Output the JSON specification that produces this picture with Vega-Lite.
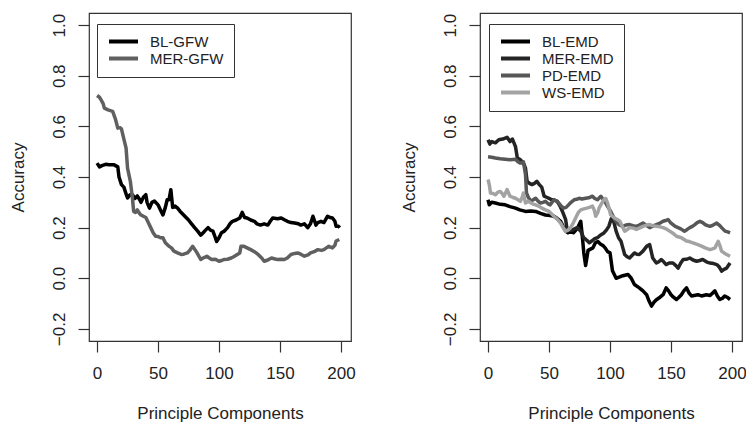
{
  "$schema": "https://vega.github.io/schema/vega-lite/v6.json",
  "autosize": {"type": "pad"},
  "padding": {"left": 8, "top": 12, "right": 0, "bottom": 0},
  "background": "white",
  "bounds": "flush",
  "spacing": 129,
  "config": {
    "view": {"stroke": "#333333", "strokeWidth": 1.2},
    "font": "Liberation Sans",
    "axis": {"domain": false, "grid": false, "ticks": true, "tickSize": 11, "tickColor": "#333333", "tickWidth": 1.2, "labelFont": "Liberation Sans", "labelFontSize": 17, "labelColor": "#222222", "labelFlush": false, "labelOverlap": false, "titleFont": "Liberation Sans", "titleFontSize": 17, "titleFontWeight": "normal", "titleColor": "#222222"},
    "axisX": {"labelPadding": 13, "titleY": 77, "titleBaseline": "alphabetic"},
    "axisY": {"labelAngle": 270, "labelAlign": "center", "labelBaseline": "bottom", "labelPadding": 10, "titleX": -66, "titleBaseline": "alphabetic", "titleAngle": 270},
    "legend": {"orient": "none", "legendX": 8, "legendY": 11, "symbolType": "stroke", "symbolSize": 841, "symbolStrokeWidth": 4, "labelFont": "Liberation Sans", "labelFontSize": 15, "labelColor": "#222222", "labelOffset": 10, "padding": 10, "clipHeight": 15, "strokeColor": "#333333", "fillColor": "white", "rowPadding": 1}
  },
  "datasets": {
    "gfw": [
      {"s":"BL-GFW","pc":0,"acc":0.455},{"s":"BL-GFW","pc":2,"acc":0.44},{"s":"BL-GFW","pc":4,"acc":0.445},{"s":"BL-GFW","pc":7,"acc":0.45},{"s":"BL-GFW","pc":10,"acc":0.448},{"s":"BL-GFW","pc":14,"acc":0.448},{"s":"BL-GFW","pc":17,"acc":0.44},{"s":"BL-GFW","pc":18,"acc":0.40},{"s":"BL-GFW","pc":20,"acc":0.37},{"s":"BL-GFW","pc":22,"acc":0.36},{"s":"BL-GFW","pc":24,"acc":0.33},{"s":"BL-GFW","pc":25,"acc":0.317},{"s":"BL-GFW","pc":27,"acc":0.33},{"s":"BL-GFW","pc":29,"acc":0.33},{"s":"BL-GFW","pc":31,"acc":0.315},{"s":"BL-GFW","pc":33,"acc":0.325},{"s":"BL-GFW","pc":35,"acc":0.31},{"s":"BL-GFW","pc":36,"acc":0.30},{"s":"BL-GFW","pc":38,"acc":0.32},{"s":"BL-GFW","pc":40,"acc":0.33},{"s":"BL-GFW","pc":41,"acc":0.30},{"s":"BL-GFW","pc":43,"acc":0.277},{"s":"BL-GFW","pc":45,"acc":0.30},{"s":"BL-GFW","pc":47,"acc":0.305},{"s":"BL-GFW","pc":50,"acc":0.29},{"s":"BL-GFW","pc":52,"acc":0.27},{"s":"BL-GFW","pc":54,"acc":0.25},{"s":"BL-GFW","pc":56,"acc":0.28},{"s":"BL-GFW","pc":57.5,"acc":0.31},{"s":"BL-GFW","pc":59,"acc":0.31},{"s":"BL-GFW","pc":60.5,"acc":0.35},{"s":"BL-GFW","pc":62,"acc":0.28},{"s":"BL-GFW","pc":64,"acc":0.285},{"s":"BL-GFW","pc":66,"acc":0.277},{"s":"BL-GFW","pc":68,"acc":0.265},{"s":"BL-GFW","pc":70,"acc":0.255},{"s":"BL-GFW","pc":72,"acc":0.245},{"s":"BL-GFW","pc":75,"acc":0.23},{"s":"BL-GFW","pc":77,"acc":0.218},{"s":"BL-GFW","pc":80,"acc":0.20},{"s":"BL-GFW","pc":82.5,"acc":0.186},{"s":"BL-GFW","pc":85,"acc":0.17},{"s":"BL-GFW","pc":87,"acc":0.18},{"s":"BL-GFW","pc":89,"acc":0.19},{"s":"BL-GFW","pc":91,"acc":0.20},{"s":"BL-GFW","pc":93,"acc":0.19},{"s":"BL-GFW","pc":95,"acc":0.186},{"s":"BL-GFW","pc":97,"acc":0.16},{"s":"BL-GFW","pc":98,"acc":0.145},{"s":"BL-GFW","pc":100,"acc":0.16},{"s":"BL-GFW","pc":102,"acc":0.18},{"s":"BL-GFW","pc":104,"acc":0.185},{"s":"BL-GFW","pc":107,"acc":0.20},{"s":"BL-GFW","pc":109,"acc":0.215},{"s":"BL-GFW","pc":111,"acc":0.225},{"s":"BL-GFW","pc":114,"acc":0.23},{"s":"BL-GFW","pc":117,"acc":0.238},{"s":"BL-GFW","pc":119,"acc":0.26},{"s":"BL-GFW","pc":121,"acc":0.24},{"s":"BL-GFW","pc":123,"acc":0.238},{"s":"BL-GFW","pc":126,"acc":0.23},{"s":"BL-GFW","pc":129,"acc":0.225},{"s":"BL-GFW","pc":131,"acc":0.215},{"s":"BL-GFW","pc":134,"acc":0.21},{"s":"BL-GFW","pc":137,"acc":0.215},{"s":"BL-GFW","pc":140,"acc":0.21},{"s":"BL-GFW","pc":142,"acc":0.225},{"s":"BL-GFW","pc":144,"acc":0.238},{"s":"BL-GFW","pc":148,"acc":0.235},{"s":"BL-GFW","pc":151,"acc":0.238},{"s":"BL-GFW","pc":154,"acc":0.23},{"s":"BL-GFW","pc":156,"acc":0.225},{"s":"BL-GFW","pc":159,"acc":0.22},{"s":"BL-GFW","pc":162,"acc":0.218},{"s":"BL-GFW","pc":165,"acc":0.215},{"s":"BL-GFW","pc":167,"acc":0.21},{"s":"BL-GFW","pc":170,"acc":0.215},{"s":"BL-GFW","pc":172.7,"acc":0.2},{"s":"BL-GFW","pc":175,"acc":0.215},{"s":"BL-GFW","pc":177,"acc":0.245},{"s":"BL-GFW","pc":179.5,"acc":0.21},{"s":"BL-GFW","pc":181,"acc":0.22},{"s":"BL-GFW","pc":183.6,"acc":0.225},{"s":"BL-GFW","pc":186,"acc":0.22},{"s":"BL-GFW","pc":189,"acc":0.245},{"s":"BL-GFW","pc":191,"acc":0.24},{"s":"BL-GFW","pc":193,"acc":0.238},{"s":"BL-GFW","pc":195,"acc":0.225},{"s":"BL-GFW","pc":196,"acc":0.205},{"s":"BL-GFW","pc":198,"acc":0.205},{"s":"BL-GFW","pc":199,"acc":0.2},
      {"s":"MER-GFW","pc":0,"acc":0.722},{"s":"MER-GFW","pc":2,"acc":0.715},{"s":"MER-GFW","pc":3.3,"acc":0.705},{"s":"MER-GFW","pc":5,"acc":0.69},{"s":"MER-GFW","pc":6,"acc":0.672},{"s":"MER-GFW","pc":9,"acc":0.665},{"s":"MER-GFW","pc":12.8,"acc":0.659},{"s":"MER-GFW","pc":15,"acc":0.63},{"s":"MER-GFW","pc":17,"acc":0.593},{"s":"MER-GFW","pc":19,"acc":0.595},{"s":"MER-GFW","pc":20,"acc":0.59},{"s":"MER-GFW","pc":22,"acc":0.55},{"s":"MER-GFW","pc":23.8,"acc":0.514},{"s":"MER-GFW","pc":25,"acc":0.435},{"s":"MER-GFW","pc":27.3,"acc":0.383},{"s":"MER-GFW","pc":29,"acc":0.317},{"s":"MER-GFW","pc":30,"acc":0.264},{"s":"MER-GFW","pc":31.5,"acc":0.26},{"s":"MER-GFW","pc":33,"acc":0.27},{"s":"MER-GFW","pc":35,"acc":0.255},{"s":"MER-GFW","pc":36,"acc":0.25},{"s":"MER-GFW","pc":38,"acc":0.245},{"s":"MER-GFW","pc":40,"acc":0.24},{"s":"MER-GFW","pc":42,"acc":0.22},{"s":"MER-GFW","pc":44,"acc":0.2},{"s":"MER-GFW","pc":46,"acc":0.18},{"s":"MER-GFW","pc":48,"acc":0.166},{"s":"MER-GFW","pc":50,"acc":0.165},{"s":"MER-GFW","pc":52,"acc":0.16},{"s":"MER-GFW","pc":54,"acc":0.16},{"s":"MER-GFW","pc":56,"acc":0.14},{"s":"MER-GFW","pc":59,"acc":0.126},{"s":"MER-GFW","pc":61,"acc":0.12},{"s":"MER-GFW","pc":63,"acc":0.107},{"s":"MER-GFW","pc":66,"acc":0.10},{"s":"MER-GFW","pc":69,"acc":0.094},{"s":"MER-GFW","pc":71,"acc":0.095},{"s":"MER-GFW","pc":74,"acc":0.10},{"s":"MER-GFW","pc":76,"acc":0.11},{"s":"MER-GFW","pc":78.4,"acc":0.126},{"s":"MER-GFW","pc":80,"acc":0.115},{"s":"MER-GFW","pc":82,"acc":0.10},{"s":"MER-GFW","pc":85,"acc":0.074},{"s":"MER-GFW","pc":87,"acc":0.08},{"s":"MER-GFW","pc":90,"acc":0.087},{"s":"MER-GFW","pc":92,"acc":0.08},{"s":"MER-GFW","pc":94,"acc":0.074},{"s":"MER-GFW","pc":97,"acc":0.075},{"s":"MER-GFW","pc":100,"acc":0.067},{"s":"MER-GFW","pc":102,"acc":0.07},{"s":"MER-GFW","pc":104,"acc":0.074},{"s":"MER-GFW","pc":107,"acc":0.075},{"s":"MER-GFW","pc":110,"acc":0.08},{"s":"MER-GFW","pc":112,"acc":0.085},{"s":"MER-GFW","pc":115,"acc":0.094},{"s":"MER-GFW","pc":117,"acc":0.10},{"s":"MER-GFW","pc":118,"acc":0.126},{"s":"MER-GFW","pc":120.5,"acc":0.126},{"s":"MER-GFW","pc":123,"acc":0.12},{"s":"MER-GFW","pc":126,"acc":0.113},{"s":"MER-GFW","pc":129,"acc":0.105},{"s":"MER-GFW","pc":132,"acc":0.094},{"s":"MER-GFW","pc":135,"acc":0.08},{"s":"MER-GFW","pc":137,"acc":0.067},{"s":"MER-GFW","pc":140,"acc":0.072},{"s":"MER-GFW","pc":143,"acc":0.08},{"s":"MER-GFW","pc":146,"acc":0.076},{"s":"MER-GFW","pc":148,"acc":0.074},{"s":"MER-GFW","pc":151,"acc":0.075},{"s":"MER-GFW","pc":153.5,"acc":0.074},{"s":"MER-GFW","pc":156,"acc":0.08},{"s":"MER-GFW","pc":159,"acc":0.094},{"s":"MER-GFW","pc":162,"acc":0.098},{"s":"MER-GFW","pc":164.5,"acc":0.10},{"s":"MER-GFW","pc":167,"acc":0.095},{"s":"MER-GFW","pc":170,"acc":0.087},{"s":"MER-GFW","pc":173,"acc":0.092},{"s":"MER-GFW","pc":175,"acc":0.10},{"s":"MER-GFW","pc":178,"acc":0.105},{"s":"MER-GFW","pc":181,"acc":0.113},{"s":"MER-GFW","pc":184,"acc":0.11},{"s":"MER-GFW","pc":186,"acc":0.113},{"s":"MER-GFW","pc":188,"acc":0.12},{"s":"MER-GFW","pc":190,"acc":0.126},{"s":"MER-GFW","pc":193,"acc":0.12},{"s":"MER-GFW","pc":195,"acc":0.13},{"s":"MER-GFW","pc":196,"acc":0.147},{"s":"MER-GFW","pc":198.6,"acc":0.153}
    ],
    "emd": [
      {"s":"BL-EMD","pc":0,"acc":0.31},{"s":"BL-EMD","pc":1,"acc":0.29},{"s":"BL-EMD","pc":3,"acc":0.30},{"s":"BL-EMD","pc":6,"acc":0.297},{"s":"BL-EMD","pc":10,"acc":0.292},{"s":"BL-EMD","pc":14,"acc":0.29},{"s":"BL-EMD","pc":18,"acc":0.283},{"s":"BL-EMD","pc":22.5,"acc":0.277},{"s":"BL-EMD","pc":26,"acc":0.27},{"s":"BL-EMD","pc":30.7,"acc":0.264},{"s":"BL-EMD","pc":35,"acc":0.266},{"s":"BL-EMD","pc":39,"acc":0.264},{"s":"BL-EMD","pc":43,"acc":0.256},{"s":"BL-EMD","pc":47,"acc":0.25},{"s":"BL-EMD","pc":51,"acc":0.248},{"s":"BL-EMD","pc":54,"acc":0.245},{"s":"BL-EMD","pc":57,"acc":0.235},{"s":"BL-EMD","pc":59.5,"acc":0.225},{"s":"BL-EMD","pc":61.5,"acc":0.205},{"s":"BL-EMD","pc":63.6,"acc":0.186},{"s":"BL-EMD","pc":65.5,"acc":0.18},{"s":"BL-EMD","pc":67.7,"acc":0.186},{"s":"BL-EMD","pc":70,"acc":0.18},{"s":"BL-EMD","pc":72,"acc":0.19},{"s":"BL-EMD","pc":74,"acc":0.205},{"s":"BL-EMD","pc":76,"acc":0.225},{"s":"BL-EMD","pc":77.4,"acc":0.16},{"s":"BL-EMD","pc":78.5,"acc":0.10},{"s":"BL-EMD","pc":80,"acc":0.05},{"s":"BL-EMD","pc":81,"acc":0.08},{"s":"BL-EMD","pc":82,"acc":0.11},{"s":"BL-EMD","pc":84,"acc":0.115},{"s":"BL-EMD","pc":86,"acc":0.12},{"s":"BL-EMD","pc":88,"acc":0.14},{"s":"BL-EMD","pc":90,"acc":0.145},{"s":"BL-EMD","pc":92,"acc":0.135},{"s":"BL-EMD","pc":94,"acc":0.13},{"s":"BL-EMD","pc":96,"acc":0.12},{"s":"BL-EMD","pc":98,"acc":0.105},{"s":"BL-EMD","pc":100,"acc":0.10},{"s":"BL-EMD","pc":102,"acc":0.03},{"s":"BL-EMD","pc":105,"acc":0.0},{"s":"BL-EMD","pc":108,"acc":0.005},{"s":"BL-EMD","pc":110.5,"acc":0.01},{"s":"BL-EMD","pc":114.7,"acc":0.015},{"s":"BL-EMD","pc":117.4,"acc":0.0},{"s":"BL-EMD","pc":120,"acc":-0.025},{"s":"BL-EMD","pc":124,"acc":-0.038},{"s":"BL-EMD","pc":127,"acc":-0.05},{"s":"BL-EMD","pc":130,"acc":-0.065},{"s":"BL-EMD","pc":132,"acc":-0.09},{"s":"BL-EMD","pc":134,"acc":-0.11},{"s":"BL-EMD","pc":136,"acc":-0.095},{"s":"BL-EMD","pc":138,"acc":-0.085},{"s":"BL-EMD","pc":141,"acc":-0.075},{"s":"BL-EMD","pc":143.5,"acc":-0.065},{"s":"BL-EMD","pc":146,"acc":-0.038},{"s":"BL-EMD","pc":148,"acc":-0.05},{"s":"BL-EMD","pc":150,"acc":-0.065},{"s":"BL-EMD","pc":152,"acc":-0.075},{"s":"BL-EMD","pc":154.5,"acc":-0.084},{"s":"BL-EMD","pc":156.5,"acc":-0.075},{"s":"BL-EMD","pc":158.5,"acc":-0.065},{"s":"BL-EMD","pc":160.5,"acc":-0.05},{"s":"BL-EMD","pc":162.7,"acc":-0.038},{"s":"BL-EMD","pc":165,"acc":-0.06},{"s":"BL-EMD","pc":166.8,"acc":-0.07},{"s":"BL-EMD","pc":169,"acc":-0.068},{"s":"BL-EMD","pc":172,"acc":-0.065},{"s":"BL-EMD","pc":175,"acc":-0.07},{"s":"BL-EMD","pc":179,"acc":-0.065},{"s":"BL-EMD","pc":182,"acc":-0.068},{"s":"BL-EMD","pc":186,"acc":-0.05},{"s":"BL-EMD","pc":188,"acc":-0.07},{"s":"BL-EMD","pc":190,"acc":-0.084},{"s":"BL-EMD","pc":192,"acc":-0.08},{"s":"BL-EMD","pc":194,"acc":-0.07},{"s":"BL-EMD","pc":196,"acc":-0.075},{"s":"BL-EMD","pc":198.4,"acc":-0.084},
      {"s":"MER-EMD","pc":0,"acc":0.547},{"s":"MER-EMD","pc":1.5,"acc":0.53},{"s":"MER-EMD","pc":3,"acc":0.54},{"s":"MER-EMD","pc":6,"acc":0.535},{"s":"MER-EMD","pc":8.8,"acc":0.547},{"s":"MER-EMD","pc":12,"acc":0.55},{"s":"MER-EMD","pc":15.6,"acc":0.557},{"s":"MER-EMD","pc":18,"acc":0.54},{"s":"MER-EMD","pc":20,"acc":0.55},{"s":"MER-EMD","pc":22.5,"acc":0.52},{"s":"MER-EMD","pc":24,"acc":0.475},{"s":"MER-EMD","pc":26,"acc":0.47},{"s":"MER-EMD","pc":28,"acc":0.46},{"s":"MER-EMD","pc":29.5,"acc":0.45},{"s":"MER-EMD","pc":30.7,"acc":0.435},{"s":"MER-EMD","pc":32,"acc":0.383},{"s":"MER-EMD","pc":34,"acc":0.375},{"s":"MER-EMD","pc":36,"acc":0.37},{"s":"MER-EMD","pc":38,"acc":0.375},{"s":"MER-EMD","pc":40,"acc":0.383},{"s":"MER-EMD","pc":42,"acc":0.37},{"s":"MER-EMD","pc":44,"acc":0.36},{"s":"MER-EMD","pc":46,"acc":0.324},{"s":"MER-EMD","pc":48,"acc":0.32},{"s":"MER-EMD","pc":50,"acc":0.316},{"s":"MER-EMD","pc":52,"acc":0.31},{"s":"MER-EMD","pc":54,"acc":0.31},{"s":"MER-EMD","pc":56.8,"acc":0.304},{"s":"MER-EMD","pc":59,"acc":0.285},{"s":"MER-EMD","pc":61,"acc":0.264},{"s":"MER-EMD","pc":63.6,"acc":0.232},{"s":"MER-EMD","pc":65,"acc":0.186},{"s":"MER-EMD","pc":67,"acc":0.19},{"s":"MER-EMD","pc":69,"acc":0.19},{"s":"MER-EMD","pc":71,"acc":0.195},{"s":"MER-EMD","pc":73,"acc":0.2},{"s":"MER-EMD","pc":76,"acc":0.186},{"s":"MER-EMD","pc":78.4,"acc":0.16},{"s":"MER-EMD","pc":81,"acc":0.15},{"s":"MER-EMD","pc":83,"acc":0.14},{"s":"MER-EMD","pc":85,"acc":0.147},{"s":"MER-EMD","pc":87,"acc":0.155},{"s":"MER-EMD","pc":89.7,"acc":0.16},{"s":"MER-EMD","pc":92,"acc":0.17},{"s":"MER-EMD","pc":95,"acc":0.179},{"s":"MER-EMD","pc":97,"acc":0.19},{"s":"MER-EMD","pc":99,"acc":0.205},{"s":"MER-EMD","pc":101,"acc":0.235},{"s":"MER-EMD","pc":103,"acc":0.225},{"s":"MER-EMD","pc":105,"acc":0.186},{"s":"MER-EMD","pc":107,"acc":0.16},{"s":"MER-EMD","pc":109,"acc":0.146},{"s":"MER-EMD","pc":110.5,"acc":0.12},{"s":"MER-EMD","pc":112,"acc":0.094},{"s":"MER-EMD","pc":114,"acc":0.085},{"s":"MER-EMD","pc":116,"acc":0.08},{"s":"MER-EMD","pc":118,"acc":0.09},{"s":"MER-EMD","pc":120,"acc":0.10},{"s":"MER-EMD","pc":122,"acc":0.095},{"s":"MER-EMD","pc":124,"acc":0.094},{"s":"MER-EMD","pc":127,"acc":0.107},{"s":"MER-EMD","pc":130,"acc":0.126},{"s":"MER-EMD","pc":132.5,"acc":0.133},{"s":"MER-EMD","pc":135,"acc":0.08},{"s":"MER-EMD","pc":138,"acc":0.06},{"s":"MER-EMD","pc":140,"acc":0.065},{"s":"MER-EMD","pc":142,"acc":0.074},{"s":"MER-EMD","pc":144,"acc":0.065},{"s":"MER-EMD","pc":146,"acc":0.054},{"s":"MER-EMD","pc":148.5,"acc":0.06},{"s":"MER-EMD","pc":151.6,"acc":0.06},{"s":"MER-EMD","pc":154,"acc":0.05},{"s":"MER-EMD","pc":155.8,"acc":0.04},{"s":"MER-EMD","pc":158,"acc":0.06},{"s":"MER-EMD","pc":160,"acc":0.074},{"s":"MER-EMD","pc":163,"acc":0.075},{"s":"MER-EMD","pc":165.4,"acc":0.08},{"s":"MER-EMD","pc":168,"acc":0.072},{"s":"MER-EMD","pc":171,"acc":0.067},{"s":"MER-EMD","pc":173.5,"acc":0.07},{"s":"MER-EMD","pc":176,"acc":0.074},{"s":"MER-EMD","pc":179,"acc":0.065},{"s":"MER-EMD","pc":182,"acc":0.06},{"s":"MER-EMD","pc":185,"acc":0.058},{"s":"MER-EMD","pc":187.5,"acc":0.054},{"s":"MER-EMD","pc":189.5,"acc":0.045},{"s":"MER-EMD","pc":191.5,"acc":0.028},{"s":"MER-EMD","pc":193.5,"acc":0.035},{"s":"MER-EMD","pc":195.6,"acc":0.04},{"s":"MER-EMD","pc":197,"acc":0.05},{"s":"MER-EMD","pc":198.4,"acc":0.06},
      {"s":"PD-EMD","pc":0,"acc":0.48},{"s":"PD-EMD","pc":3,"acc":0.478},{"s":"PD-EMD","pc":6,"acc":0.475},{"s":"PD-EMD","pc":10,"acc":0.472},{"s":"PD-EMD","pc":14,"acc":0.47},{"s":"PD-EMD","pc":18,"acc":0.468},{"s":"PD-EMD","pc":22.5,"acc":0.47},{"s":"PD-EMD","pc":24.5,"acc":0.46},{"s":"PD-EMD","pc":26.5,"acc":0.455},{"s":"PD-EMD","pc":29,"acc":0.46},{"s":"PD-EMD","pc":30.7,"acc":0.41},{"s":"PD-EMD","pc":31.5,"acc":0.337},{"s":"PD-EMD","pc":33,"acc":0.32},{"s":"PD-EMD","pc":35,"acc":0.304},{"s":"PD-EMD","pc":37,"acc":0.31},{"s":"PD-EMD","pc":39,"acc":0.316},{"s":"PD-EMD","pc":41,"acc":0.305},{"s":"PD-EMD","pc":43,"acc":0.297},{"s":"PD-EMD","pc":45,"acc":0.30},{"s":"PD-EMD","pc":47,"acc":0.304},{"s":"PD-EMD","pc":49,"acc":0.295},{"s":"PD-EMD","pc":51,"acc":0.29},{"s":"PD-EMD","pc":54,"acc":0.31},{"s":"PD-EMD","pc":56,"acc":0.305},{"s":"PD-EMD","pc":58,"acc":0.297},{"s":"PD-EMD","pc":60,"acc":0.285},{"s":"PD-EMD","pc":62,"acc":0.277},{"s":"PD-EMD","pc":64,"acc":0.28},{"s":"PD-EMD","pc":66,"acc":0.29},{"s":"PD-EMD","pc":68,"acc":0.30},{"s":"PD-EMD","pc":70.6,"acc":0.31},{"s":"PD-EMD","pc":72.6,"acc":0.312},{"s":"PD-EMD","pc":74.6,"acc":0.316},{"s":"PD-EMD","pc":77,"acc":0.313},{"s":"PD-EMD","pc":80,"acc":0.316},{"s":"PD-EMD","pc":82.5,"acc":0.318},{"s":"PD-EMD","pc":85.6,"acc":0.324},{"s":"PD-EMD","pc":87.5,"acc":0.315},{"s":"PD-EMD","pc":89.7,"acc":0.31},{"s":"PD-EMD","pc":92.5,"acc":0.324},{"s":"PD-EMD","pc":94.5,"acc":0.31},{"s":"PD-EMD","pc":96.5,"acc":0.297},{"s":"PD-EMD","pc":98.5,"acc":0.28},{"s":"PD-EMD","pc":100.6,"acc":0.264},{"s":"PD-EMD","pc":102,"acc":0.25},{"s":"PD-EMD","pc":104,"acc":0.23},{"s":"PD-EMD","pc":106,"acc":0.218},{"s":"PD-EMD","pc":108,"acc":0.21},{"s":"PD-EMD","pc":110.5,"acc":0.205},{"s":"PD-EMD","pc":113,"acc":0.21},{"s":"PD-EMD","pc":116,"acc":0.212},{"s":"PD-EMD","pc":119,"acc":0.208},{"s":"PD-EMD","pc":121.6,"acc":0.205},{"s":"PD-EMD","pc":124,"acc":0.21},{"s":"PD-EMD","pc":127,"acc":0.218},{"s":"PD-EMD","pc":130,"acc":0.208},{"s":"PD-EMD","pc":132.5,"acc":0.2},{"s":"PD-EMD","pc":135,"acc":0.206},{"s":"PD-EMD","pc":138,"acc":0.212},{"s":"PD-EMD","pc":141,"acc":0.218},{"s":"PD-EMD","pc":143.5,"acc":0.225},{"s":"PD-EMD","pc":145.5,"acc":0.228},{"s":"PD-EMD","pc":147.6,"acc":0.232},{"s":"PD-EMD","pc":149.5,"acc":0.22},{"s":"PD-EMD","pc":151.6,"acc":0.212},{"s":"PD-EMD","pc":153.5,"acc":0.205},{"s":"PD-EMD","pc":155.8,"acc":0.2},{"s":"PD-EMD","pc":158,"acc":0.195},{"s":"PD-EMD","pc":161,"acc":0.186},{"s":"PD-EMD","pc":163,"acc":0.192},{"s":"PD-EMD","pc":165.4,"acc":0.2},{"s":"PD-EMD","pc":167.5,"acc":0.205},{"s":"PD-EMD","pc":169.5,"acc":0.212},{"s":"PD-EMD","pc":171.5,"acc":0.22},{"s":"PD-EMD","pc":173.7,"acc":0.225},{"s":"PD-EMD","pc":176,"acc":0.22},{"s":"PD-EMD","pc":178,"acc":0.212},{"s":"PD-EMD","pc":180,"acc":0.208},{"s":"PD-EMD","pc":182,"acc":0.205},{"s":"PD-EMD","pc":184.5,"acc":0.21},{"s":"PD-EMD","pc":187.5,"acc":0.218},{"s":"PD-EMD","pc":189.5,"acc":0.21},{"s":"PD-EMD","pc":191.5,"acc":0.2},{"s":"PD-EMD","pc":194.3,"acc":0.186},{"s":"PD-EMD","pc":196.5,"acc":0.183},{"s":"PD-EMD","pc":198.4,"acc":0.179},
      {"s":"WS-EMD","pc":0,"acc":0.39},{"s":"WS-EMD","pc":1,"acc":0.37},{"s":"WS-EMD","pc":2,"acc":0.337},{"s":"WS-EMD","pc":4,"acc":0.335},{"s":"WS-EMD","pc":6,"acc":0.33},{"s":"WS-EMD","pc":8,"acc":0.34},{"s":"WS-EMD","pc":10,"acc":0.343},{"s":"WS-EMD","pc":11.5,"acc":0.335},{"s":"WS-EMD","pc":13,"acc":0.324},{"s":"WS-EMD","pc":15.6,"acc":0.35},{"s":"WS-EMD","pc":17,"acc":0.335},{"s":"WS-EMD","pc":18,"acc":0.324},{"s":"WS-EMD","pc":20,"acc":0.32},{"s":"WS-EMD","pc":22.5,"acc":0.316},{"s":"WS-EMD","pc":24.5,"acc":0.31},{"s":"WS-EMD","pc":26.5,"acc":0.304},{"s":"WS-EMD","pc":28,"acc":0.32},{"s":"WS-EMD","pc":29,"acc":0.337},{"s":"WS-EMD","pc":30.7,"acc":0.297},{"s":"WS-EMD","pc":33,"acc":0.304},{"s":"WS-EMD","pc":36,"acc":0.295},{"s":"WS-EMD","pc":39,"acc":0.29},{"s":"WS-EMD","pc":41.5,"acc":0.285},{"s":"WS-EMD","pc":44,"acc":0.277},{"s":"WS-EMD","pc":47,"acc":0.27},{"s":"WS-EMD","pc":50,"acc":0.264},{"s":"WS-EMD","pc":52,"acc":0.255},{"s":"WS-EMD","pc":54,"acc":0.245},{"s":"WS-EMD","pc":57,"acc":0.232},{"s":"WS-EMD","pc":59.5,"acc":0.218},{"s":"WS-EMD","pc":61.5,"acc":0.2},{"s":"WS-EMD","pc":63.6,"acc":0.186},{"s":"WS-EMD","pc":65.5,"acc":0.19},{"s":"WS-EMD","pc":67.7,"acc":0.2},{"s":"WS-EMD","pc":70,"acc":0.22},{"s":"WS-EMD","pc":71.8,"acc":0.238},{"s":"WS-EMD","pc":74,"acc":0.26},{"s":"WS-EMD","pc":76,"acc":0.27},{"s":"WS-EMD","pc":78.5,"acc":0.274},{"s":"WS-EMD","pc":81,"acc":0.277},{"s":"WS-EMD","pc":83,"acc":0.28},{"s":"WS-EMD","pc":85.6,"acc":0.285},{"s":"WS-EMD","pc":87,"acc":0.27},{"s":"WS-EMD","pc":88.3,"acc":0.245},{"s":"WS-EMD","pc":90,"acc":0.26},{"s":"WS-EMD","pc":91,"acc":0.277},{"s":"WS-EMD","pc":93,"acc":0.295},{"s":"WS-EMD","pc":95,"acc":0.31},{"s":"WS-EMD","pc":96.5,"acc":0.315},{"s":"WS-EMD","pc":98,"acc":0.297},{"s":"WS-EMD","pc":100.6,"acc":0.25},{"s":"WS-EMD","pc":103.7,"acc":0.238},{"s":"WS-EMD","pc":106,"acc":0.232},{"s":"WS-EMD","pc":108,"acc":0.225},{"s":"WS-EMD","pc":110,"acc":0.205},{"s":"WS-EMD","pc":112,"acc":0.186},{"s":"WS-EMD","pc":114,"acc":0.192},{"s":"WS-EMD","pc":116,"acc":0.2},{"s":"WS-EMD","pc":119,"acc":0.198},{"s":"WS-EMD","pc":121.6,"acc":0.193},{"s":"WS-EMD","pc":124,"acc":0.198},{"s":"WS-EMD","pc":127,"acc":0.205},{"s":"WS-EMD","pc":130,"acc":0.21},{"s":"WS-EMD","pc":132.5,"acc":0.212},{"s":"WS-EMD","pc":135,"acc":0.208},{"s":"WS-EMD","pc":138,"acc":0.205},{"s":"WS-EMD","pc":141,"acc":0.203},{"s":"WS-EMD","pc":143.5,"acc":0.2},{"s":"WS-EMD","pc":146,"acc":0.195},{"s":"WS-EMD","pc":149,"acc":0.186},{"s":"WS-EMD","pc":151.5,"acc":0.178},{"s":"WS-EMD","pc":154.5,"acc":0.166},{"s":"WS-EMD","pc":158.5,"acc":0.16},{"s":"WS-EMD","pc":162.7,"acc":0.147},{"s":"WS-EMD","pc":165,"acc":0.145},{"s":"WS-EMD","pc":168,"acc":0.14},{"s":"WS-EMD","pc":172,"acc":0.133},{"s":"WS-EMD","pc":175,"acc":0.127},{"s":"WS-EMD","pc":178,"acc":0.12},{"s":"WS-EMD","pc":182,"acc":0.113},{"s":"WS-EMD","pc":184,"acc":0.116},{"s":"WS-EMD","pc":186,"acc":0.12},{"s":"WS-EMD","pc":188.7,"acc":0.146},{"s":"WS-EMD","pc":190,"acc":0.13},{"s":"WS-EMD","pc":191.5,"acc":0.107},{"s":"WS-EMD","pc":193.5,"acc":0.1},{"s":"WS-EMD","pc":195.6,"acc":0.094},{"s":"WS-EMD","pc":198.4,"acc":0.087}
    ]
  },
  "hconcat": [
    {
      "width": 262, "height": 328,
      "data": {"name": "gfw"},
      "mark": {"type": "line", "strokeWidth": 3.5, "strokeJoin": "round"},
      "encoding": {
        "x": {"field": "pc", "type": "quantitative", "scale": {"domain": [-6.6, 208.2], "nice": false, "zero": false}, "axis": {"title": "Principle Components", "values": [0, 50, 100, 150, 200]}},
        "y": {"field": "acc", "type": "quantitative", "scale": {"domain": [-0.248, 1.048], "nice": false, "zero": false}, "axis": {"title": "Accuracy", "values": [-0.2, 0, 0.2, 0.4, 0.6, 0.8, 1.0], "format": ".1f"}},
        "color": {"field": "s", "type": "nominal", "scale": {"domain": ["BL-GFW", "MER-GFW"], "range": ["#000000", "#606060"]}, "legend": {"title": null}}
      }
    },
    {
      "width": 262, "height": 328,
      "data": {"name": "emd"},
      "mark": {"type": "line", "strokeWidth": 3.5, "strokeJoin": "round"},
      "encoding": {
        "x": {"field": "pc", "type": "quantitative", "scale": {"domain": [-6.6, 208.2], "nice": false, "zero": false}, "axis": {"title": "Principle Components", "values": [0, 50, 100, 150, 200]}},
        "y": {"field": "acc", "type": "quantitative", "scale": {"domain": [-0.248, 1.048], "nice": false, "zero": false}, "axis": {"title": "Accuracy", "values": [-0.2, 0, 0.2, 0.4, 0.6, 0.8, 1.0], "format": ".1f"}},
        "color": {"field": "s", "type": "nominal", "scale": {"domain": ["BL-EMD", "MER-EMD", "PD-EMD", "WS-EMD"], "range": ["#000000", "#242424", "#575757", "#a3a3a3"]}, "legend": {"title": null, "legendX": 9}}
      }
    }
  ],
  "resolve": {"scale": {"color": "independent", "x": "independent", "y": "independent"}, "legend": {"color": "independent"}}
}
